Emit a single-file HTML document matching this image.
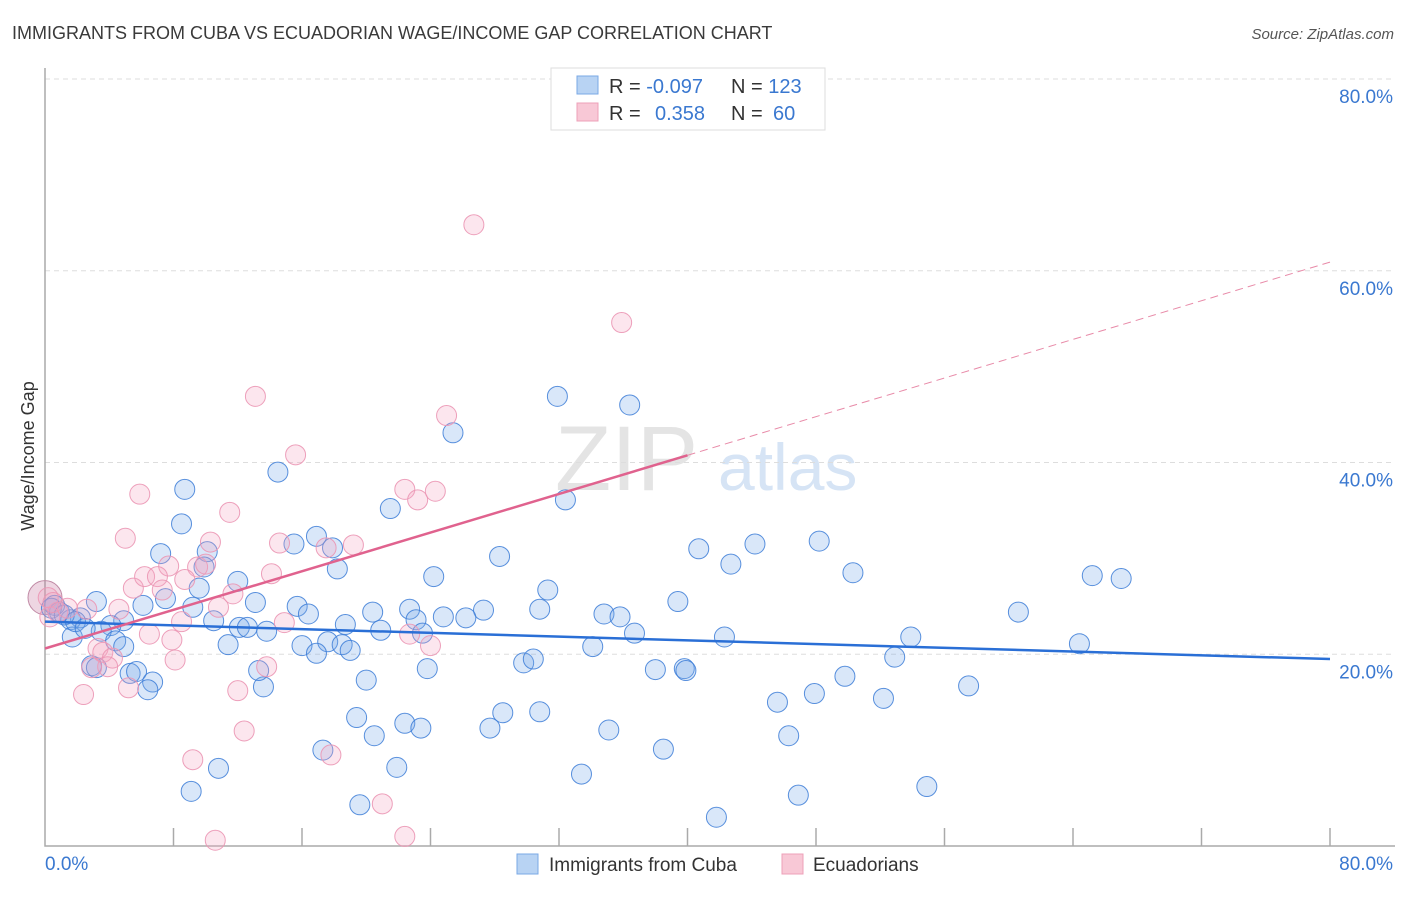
<!DOCTYPE html>
<html><head><meta charset="utf-8"><style>
body{margin:0;background:#fff;font-family:"Liberation Sans",sans-serif}
svg text{font-family:"Liberation Sans",sans-serif}
</style></head><body>
<svg id="chart" width="1406" height="892" xmlns="http://www.w3.org/2000/svg">
<text x="12" y="39" font-size="18" fill="#3a3a3a">IMMIGRANTS FROM CUBA VS ECUADORIAN WAGE/INCOME GAP CORRELATION CHART</text>
<text x="1394" y="39" font-size="15" fill="#555" font-style="italic" text-anchor="end">Source: ZipAtlas.com</text>
<text x="555" y="490" font-size="92" fill="#e4e4e4" font-family="Liberation Serif">ZIP</text>
<text x="718" y="490" font-size="66" fill="#d6e4f5">atlas</text>
<g id="grid"></g>
<g id="axes"></g>
<g id="marks"></g>
<text transform="translate(34,456) rotate(-90)" font-size="18" fill="#333" text-anchor="middle">Wage/Income Gap</text>
<g>
<rect x="551" y="68" width="274" height="62" fill="#fff" stroke="#ddd"/>
<rect x="577" y="76" width="21" height="18" fill="#b8d3f3" stroke="#7aa8e6"/>
<rect x="577" y="103" width="21" height="18" fill="#f8c8d6" stroke="#eea0b8"/>
<text x="609" y="93" font-size="20" fill="#333">R = <tspan fill="#3a78d0">-0.097</tspan></text>
<text x="731" y="93" font-size="20" fill="#333">N = <tspan fill="#3a78d0">123</tspan></text>
<text x="609" y="120" font-size="20" fill="#333">R = <tspan fill="#3a78d0" x="655">0.358</tspan></text>
<text x="731" y="120" font-size="20" fill="#333">N = <tspan fill="#3a78d0" x="773">60</tspan></text>
</g>
<g>
<rect x="517" y="854" width="21" height="20" fill="#b8d3f3" stroke="#7aa8e6"/>
<text x="549" y="871" font-size="19" fill="#333">Immigrants from Cuba</text>
<rect x="782" y="854" width="21" height="20" fill="#f8c8d6" stroke="#eea0b8"/>
<text x="813" y="871" font-size="19" fill="#333">Ecuadorians</text>
</g>
</svg>
<script>
const yTicks=[20,40,60,80];
const yTickLabels=["20.0%","40.0%","60.0%","80.0%"];
const xTicks=[8,16,24,32,40,48,56,64,72,80];
const cubaX=[31.9,36.4,25.4,14.5,8.7,21.5,32.4,8.5,16.9,15.5,7.2,10.1,17.9,28.3,40.7,44.2,48.2,42.7,18.2,24.2,50.3,65.2,67.0,12.0,9.9,9.6,31.3,7.5,3.2,6.1,9.2,13.1,15.7,16.4,22.7,20.4,27.3,30.8,34.8,35.8,39.4,60.6,24.8,26.2,23.1,4.9,4.1,2.2,0.9,1.6,10.5,12.1,12.6,13.8,20.9,23.5,18.7,36.7,42.3,53.9,64.4,1.7,3.5,4.4,4.9,11.4,16.0,17.6,18.5,19.0,16.9,2.9,3.2,5.3,5.7,6.7,6.4,13.6,13.3,20.0,23.8,29.8,30.4,34.1,38.0,39.8,39.9,49.8,52.9,57.5,45.6,47.9,52.2,19.4,22.4,23.4,28.5,27.7,30.8,35.1,20.5,17.3,38.5,46.3,10.8,21.9,33.4,9.1,19.6,54.9,46.9,41.8,0.6,0.4,1.2,1.9,2.5];
const cubaY=[46.9,46.0,43.1,39.0,37.2,35.2,36.1,33.6,32.3,31.5,30.5,30.7,31.1,30.2,31.0,31.5,31.8,29.4,28.9,28.1,28.5,28.2,27.9,27.6,29.1,26.9,26.7,25.8,25.5,25.1,24.9,25.4,25.0,24.2,24.7,24.4,24.6,24.7,24.2,23.9,25.5,24.4,23.9,23.8,23.6,23.5,23.0,23.8,24.4,23.6,23.5,22.8,22.8,22.4,22.5,22.2,23.1,22.2,21.8,21.8,21.1,21.8,22.4,21.4,20.8,21.0,20.9,21.3,21.0,20.4,20.1,18.8,18.6,18.0,18.2,17.1,16.3,16.6,18.3,17.3,18.5,19.1,19.5,20.8,18.4,18.5,18.3,17.7,19.7,16.7,15.0,15.9,15.4,13.4,12.8,12.3,13.9,12.3,14.0,12.1,11.5,10.0,10.1,11.5,8.1,8.2,7.5,5.7,4.3,6.2,5.3,3.0,25.1,24.8,24.1,23.4,22.7];
const ecuX=[26.7,35.9,13.1,25.0,15.6,22.4,24.3,23.2,5.9,11.5,5.0,10.3,14.6,17.5,19.2,7.7,9.5,10.0,14.1,11.7,8.7,5.5,6.2,7.0,7.3,4.6,2.6,10.8,14.9,8.5,0.3,0.8,1.4,6.5,7.9,8.1,22.7,24.0,3.3,3.6,4.2,3.9,2.9,13.8,5.2,12.0,2.4,12.4,17.8,9.2,21.0,10.6,22.4,0.2,0.5];
const ecuY=[64.8,54.6,46.9,44.9,40.8,37.2,37.0,36.1,36.7,34.8,32.1,31.7,31.6,31.1,31.4,29.2,29.1,29.4,28.4,26.3,27.8,26.9,28.1,28.1,26.7,24.7,24.7,24.9,23.3,23.4,23.9,24.4,24.8,22.1,21.5,19.4,22.1,20.9,20.6,20.2,19.6,18.7,18.6,18.7,16.5,16.2,15.8,12.0,9.5,9.0,4.4,0.6,1.0,25.9,25.4];
const cubaTrend=[23.4,19.5];
const ecuTrend=[20.6,60.9];
const ecuSolidEnd=40;
const NS="http://www.w3.org/2000/svg";
const X=v=>45+v*(1285/80);
const Y=v=>846-v*(767/80);
function mk(tag,attrs,parent){const e=document.createElementNS(NS,tag);for(const k in attrs)e.setAttribute(k,attrs[k]);parent.appendChild(e);return e;}
const grid=document.getElementById('grid'),axes=document.getElementById('axes'),marks=document.getElementById('marks');
yTicks.forEach((t,i)=>{
 const l=mk('line',{x1:45,x2:1395,y1:Y(t),y2:Y(t),stroke:'#ddd','stroke-dasharray':'5,4'},grid);
 
 
 const tx=mk('text',{x:1393,y:Y(t)+24,'font-size':19,fill:'#3a78d0','text-anchor':'end'},axes);
 tx.textContent=yTickLabels[i];
 
 
});
const ax=mk('path',{d:'M45 68 V846 H1395',fill:'none',stroke:'#aaa','stroke-width':1.5},axes);


xTicks.forEach(t=>{
 const l=mk('line',{x1:X(t),x2:X(t),y1:828,y2:846,stroke:'#aaa','stroke-width':1.5},axes);
 
 
});
const x0=mk('text',{x:45,y:870,'font-size':19,fill:'#3a78d0'},axes);x0.textContent='0.0%';


const x1=mk('text',{x:1393,y:870,'font-size':19,fill:'#3a78d0','text-anchor':'end'},axes);x1.textContent='80.0%';


const big1=mk('circle',{cx:X(0),cy:Y(25.9),r:17,fill:'rgba(200,120,160,0.3)',stroke:'#c08aa5'},marks);


cubaX.forEach((v,i)=>{
 const c=mk('circle',{cx:X(v),cy:Y(cubaY[i]),r:10,fill:'rgba(120,170,235,0.28)',stroke:'rgba(60,125,215,0.85)','stroke-width':1},marks);
 
 
});
ecuX.forEach((v,i)=>{
 const c=mk('circle',{cx:X(v),cy:Y(ecuY[i]),r:10,fill:'rgba(245,165,195,0.28)',stroke:'rgba(235,150,180,0.9)','stroke-width':1},marks);
 
 
});
const tb=mk('line',{x1:X(0),y1:Y(cubaTrend[0]),x2:X(80),y2:Y(cubaTrend[1]),stroke:'#2a6fd6','stroke-width':2.5},marks);


const ey=x=>ecuTrend[0]+(ecuTrend[1]-ecuTrend[0])*x/80;
const tp=mk('line',{x1:X(0),y1:Y(ey(0)),x2:X(ecuSolidEnd),y2:Y(ey(ecuSolidEnd)),stroke:'#e0628e','stroke-width':2.5},marks);


const td=mk('line',{x1:X(ecuSolidEnd),y1:Y(ey(ecuSolidEnd)),x2:X(80),y2:Y(ey(80)),stroke:'#e88aa8','stroke-width':1,'stroke-dasharray':'8,5'},marks);


</script>
</body></html>
